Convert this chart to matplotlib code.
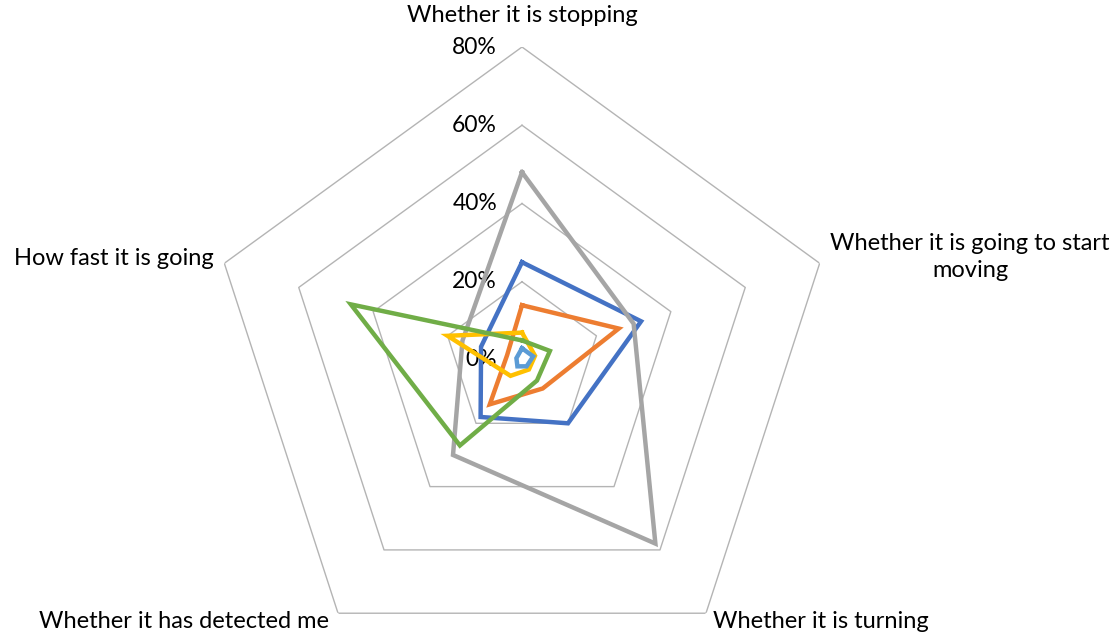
import numpy as np
import matplotlib
matplotlib.use("Agg")
import matplotlib.pyplot as plt

# categories, clockwise from the top
categories = ["Whether it is stopping",
              "Whether it is going to start\nmoving",
              "Whether it is turning",
              "Whether it has detected me",
              "How fast it is going"]

# series values (fraction)
blue = [0.25, 0.32, 0.20, 0.18, 0.11]
orange = [0.14, 0.26, 0.09, 0.14, 0.04]
grey = [0.48, 0.30, 0.58, 0.30, 0.16]
yellow = [0.07, 0.035, 0.03, 0.05, 0.20]
light_blue = [0.03, 0.03, 0.02, 0.02, 0.015]
green = [0.05, 0.075, 0.065, 0.27, 0.46]

rings = [0.0, 0.2, 0.4, 0.6, 0.8]
ring_labels = ["0%", "20%", "40%", "60%", "80%"]

series = [(blue, "#4472C4"), (orange, "#ED7D31"), (grey, "#A5A5A5"),
          (yellow, "#FFC000"), (light_blue, "#5B9BD5"), (green, "#70AD47")]

plt.rcParams['font.family'] = ['Lato', 'DejaVu Sans']

W, H = 1113, 635
fig = plt.figure(figsize=(W / 100, H / 100), dpi=100)
cx, cy, R = 522, 360, 313
ax = fig.add_axes([(cx - R) / W, (H - cy - R) / H, 2 * R / W, 2 * R / H], projection="polar")
ax.set_theta_offset(np.pi / 2)
ax.set_theta_direction(-1)
ax.set_ylim(0, 0.8)
ax.axis("off")

n = len(categories)
theta = np.linspace(0, 2 * np.pi, n, endpoint=False)
theta_closed = np.append(theta, theta[0])

# pentagon grid
for r in rings[1:]:
    ax.plot(theta_closed, [r] * (n + 1), color="#B4B4B4", lw=1.0, zorder=1)

# ring labels left of the top axis
for r, lab in zip(rings, ring_labels):
    ax.annotate(lab, xy=(0, r), xytext=(-18, 0), textcoords="offset points",
                ha="right", va="center", fontsize=16.5, color="#000000")

for vals, col in series:
    ax.plot(theta_closed, vals + vals[:1], color=col, lw=3.2,
            solid_joinstyle="miter", zorder=3)

# category labels
label_pos = [(522, 15, "center"), (970, 257, "center"), (821, 622, "center"),
             (184, 622, "center"), (114, 258, "center")]
for lab, (x, y, ha) in zip(categories, label_pos):
    fig.text(x / W, 1 - y / H, lab, ha=ha, va="center", fontsize=17,
             color="#000000", linespacing=1.3, multialignment="center")

fig.savefig("out.png", dpi=100)
